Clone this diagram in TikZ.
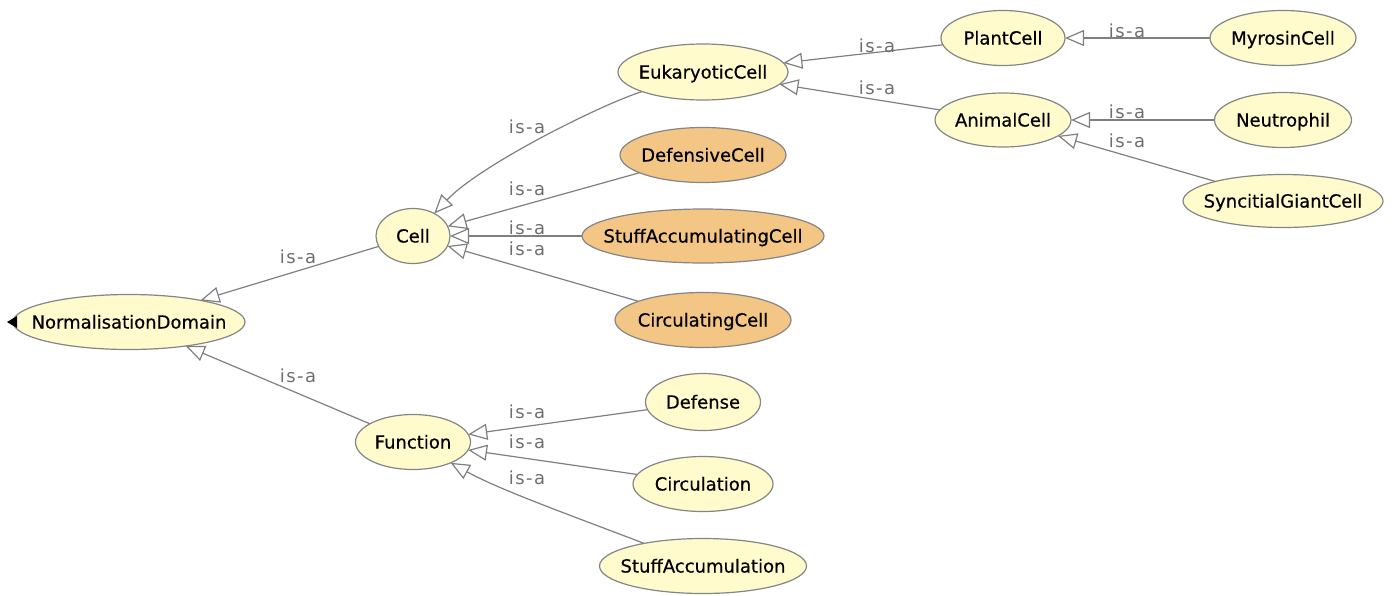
\documentclass[tikz,border=0pt]{standalone}
\usepackage{fontspec}
\setmainfont{DejaVu Sans}
\newfontfamily\clsfont[FakeBold=0.5]{DejaVu Sans}
\newfontfamily\isafont[LetterSpace=8]{DejaVu Sans}
\usetikzlibrary{shapes.geometric,arrows.meta}

\definecolor{clsfill}{HTML}{FFFBCC}
\definecolor{defnfill}{HTML}{F4C686}
\definecolor{rim}{HTML}{858585}
\definecolor{wire}{HTML}{7F7F7F}
\definecolor{isagray}{HTML}{6E6E6E}

% class names are set in a zero-width box so the ellipse keeps its given size
\newcommand\clsname[1]{\makebox[0pt]{#1}}

\tikzset{
  cls/.style={ellipse, draw=rim, line width=1.2pt, fill=clsfill, inner sep=0pt, outer sep=0pt,
    font=\clsfont\fontsize{18}{18}\selectfont, text height=13pt, text depth=0pt},
  defd/.style={cls, fill=defnfill},
  isa/.style={draw=wire, line width=1.2pt,
    -{Triangle[open, fill=white, length=19pt, width=16pt]}},
  lbl/.style={text=isagray, font=\isafont\fontsize{18}{18}\selectfont, inner sep=0pt,
    text height=13pt, text depth=0pt}
}

\begin{document}
\begin{tikzpicture}[x=1pt, y=1pt]
\useasboundingbox (0,0) rectangle (1396,-595);

% classes
\node[cls, minimum width=232pt, minimum height=55pt] (nd) at (129,-322) {\clsname{NormalisationDomain}};
\node[cls, minimum width=74pt, minimum height=55pt] (cell) at (413,-236) {\clsname{Cell}};
\node[cls, minimum width=115pt, minimum height=55pt] (func) at (413,-442) {\clsname{Function}};
\node[cls, minimum width=170pt, minimum height=56pt] (euk) at (703,-72) {\clsname{EukaryoticCell}};
\node[defd, minimum width=166pt, minimum height=55pt] (defc) at (703,-155) {\clsname{DefensiveCell}};
\node[defd, minimum width=242pt, minimum height=54pt] (sac) at (703,-236) {\clsname{StuffAccumulatingCell}};
\node[defd, minimum width=176pt, minimum height=55pt] (circc) at (703,-320) {\clsname{CirculatingCell}};
\node[cls, minimum width=124pt, minimum height=55pt] (plant) at (1003,-38) {\clsname{PlantCell}};
\node[cls, minimum width=136pt, minimum height=54pt] (animal) at (1003,-120) {\clsname{AnimalCell}};
\node[cls, minimum width=146pt, minimum height=55pt] (myro) at (1283,-38) {\clsname{MyrosinCell}};
\node[cls, minimum width=137pt, minimum height=55pt] (neut) at (1283,-120) {\clsname{Neutrophil}};
\node[cls, minimum width=200pt, minimum height=53pt] (sync) at (1283,-201) {\clsname{SyncitialGiantCell}};
\node[cls, minimum width=115pt, minimum height=57pt] (defense) at (703,-402) {\clsname{Defense}};
\node[cls, minimum width=140pt, minimum height=55pt] (circ) at (703,-484) {\clsname{Circulation}};
\node[cls, minimum width=207pt, minimum height=55pt] (stacc) at (703,-566) {\clsname{StuffAccumulation}};

% expander marker on the root
\fill (7,-322) -- (17,-316) -- (17,-328) -- cycle;

% subclass links
\draw[isa] (cell) -- (nd);
\draw[isa] (func) -- (nd);
\draw[isa] (euk) .. controls (600,-105) and (480,-165) .. (cell);
\draw[isa] (defc) -- (cell);
\draw[isa] (sac) -- (cell);
\draw[isa] (circc) -- (cell);
\draw[isa] (plant) -- (euk);
\draw[isa] (animal) -- (euk);
\draw[isa] (myro) -- (plant);
\draw[isa] (neut) -- (animal);
\draw[isa] (sync) -- (animal);
\draw[isa] (defense) -- (func);
\draw[isa] (circ) -- (func);
\draw[isa] (stacc) .. controls (570,-515) and (500,-490) .. (func);

% link labels
\node[lbl] (l1) at (298,-257) {is-a};
\node[lbl] (l2) at (298,-376) {is-a};
\node[lbl] (l3) at (527,-127) {is-a};
\node[lbl] (l4) at (527,-189) {is-a};
\node[lbl] (l5) at (527,-228) {is-a};
\node[lbl] (l6) at (527,-249) {is-a};
\node[lbl] (l7) at (877,-46) {is-a};
\node[lbl] (l8) at (877,-88) {is-a};
\node[lbl] (l9) at (1127,-31) {is-a};
\node[lbl] (l10) at (1127,-112) {is-a};
\node[lbl] (l11) at (1127,-141) {is-a};
\node[lbl] (l12) at (527,-412) {is-a};
\node[lbl] (l13) at (527,-442) {is-a};
\node[lbl] (l14) at (527,-478) {is-a};
\end{tikzpicture}
\end{document}
